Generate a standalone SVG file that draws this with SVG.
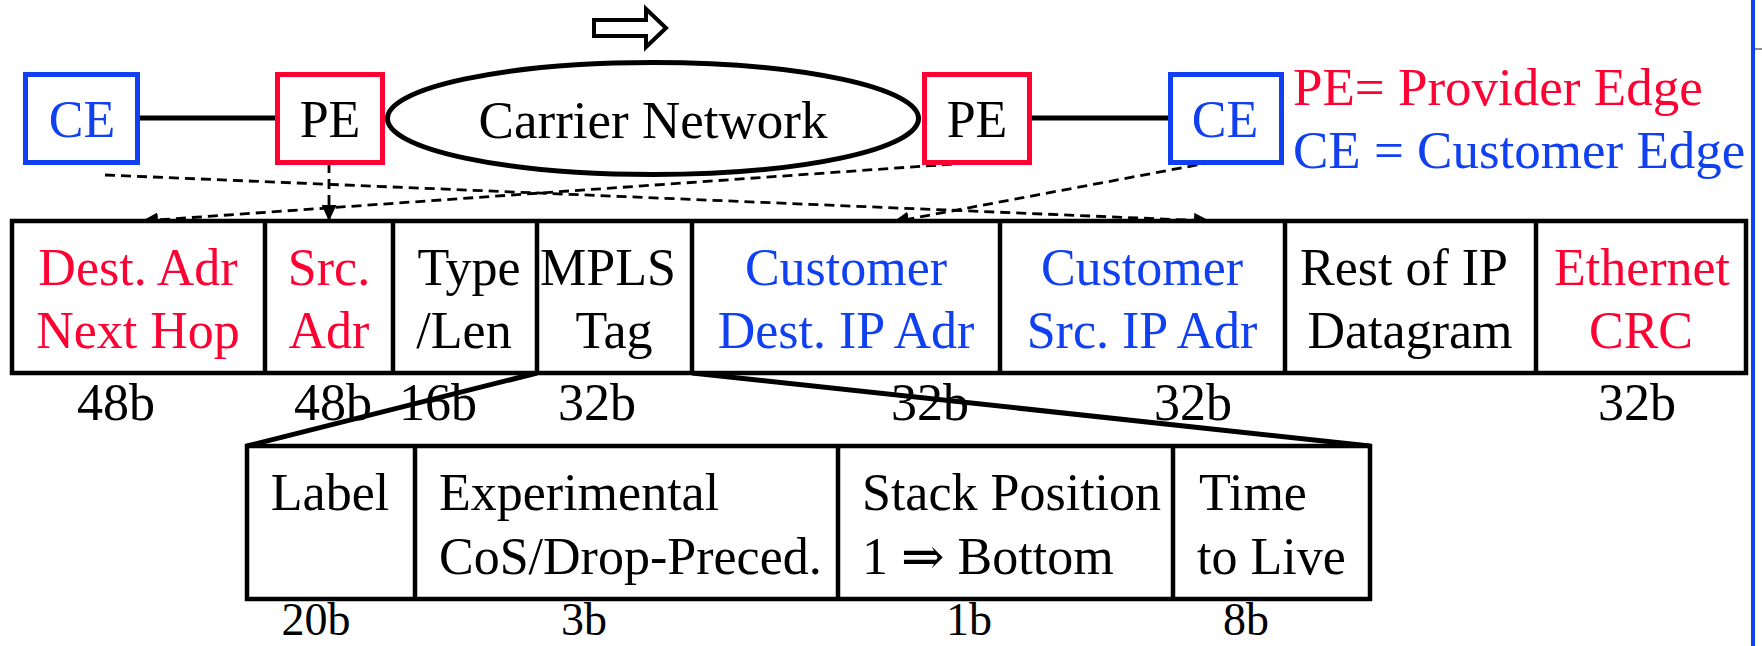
<svg xmlns="http://www.w3.org/2000/svg" width="1762" height="646" viewBox="0 0 1762 646">
<defs>
<style>
text { font-family: "Liberation Serif", "Times New Roman", "DejaVu Serif", serif; font-size: 52px; }
.r { fill: #FF0033; }
.b { fill: #1040F0; }
.k { fill: #000000; }
.c { text-anchor: middle; }
.bx { fill: #ffffff; stroke-width: 5; }
.rb { stroke: #FF0033; }
.bb { stroke: #1040F0; }
.tbl { fill: #ffffff; stroke: #000000; stroke-width: 4.5; }
.dv { stroke: #000000; stroke-width: 4.5; }
.solid { stroke: #000000; stroke-width: 5; fill: none; }
.dash { fill: none; stroke: #000000; stroke-width: 2.8; stroke-dasharray: 10 6; marker-end: url(#ah); }
.bits2 { font-size: 46px; }
</style>
<marker id="ah" markerUnits="userSpaceOnUse" markerWidth="17" markerHeight="15" refX="16" refY="7.5" orient="auto"><path d="M0,0 L16,7.5 L0,15 z" fill="#000000"/></marker>
</defs>
<rect width="1762" height="646" fill="#ffffff"/>

<!-- direction arrow -->
<polygon id="dir-arrow" points="594,20 646,20 646,9 666,28 646,47 646,36 594,36" fill="#ffffff" stroke="#000000" stroke-width="4" stroke-linejoin="miter"/>

<!-- right border line -->
<line x1="1753" y1="0" x2="1753" y2="646" stroke="#1040F0" stroke-width="4"/>
<line x1="1755" y1="49" x2="1762" y2="49" stroke="#666666" stroke-width="1.5"/>

<g id="connectors">
  <line class="solid" x1="140" y1="118" x2="276" y2="118"/>
  <line class="solid" x1="1032" y1="118" x2="1170" y2="118"/>
  <line class="dash" x1="105" y1="175" x2="1210" y2="221"/>
  <line class="dash" x1="968" y1="163" x2="142" y2="221"/>
  <line class="dash" x1="329" y1="163" x2="329" y2="221"/>
  <line class="dash" x1="1213" y1="162" x2="893" y2="222"/>
  <line class="solid" x1="537" y1="373" x2="247" y2="446"/>
  <line class="solid" x1="692" y1="373" x2="1370" y2="446"/>
</g>

<g id="carrier-network">
  <ellipse cx="653" cy="118.5" rx="265.5" ry="56" fill="#ffffff" stroke="#000000" stroke-width="5"/>
  <text class="k c" x="653" y="138" style="font-size:53px">Carrier Network</text>
</g>
<g id="ce-left">
  <rect class="bx bb" x="25.5" y="74.5" width="112" height="88"/>
  <text class="b c" x="82" y="137">CE</text>
</g>
<g id="pe-left">
  <rect class="bx rb" x="277.5" y="74.5" width="105" height="88"/>
  <text class="k c" x="330" y="137">PE</text>
</g>
<g id="pe-right">
  <rect class="bx rb" x="924.5" y="74.5" width="105" height="88"/>
  <text class="k c" x="977" y="137">PE</text>
</g>
<g id="ce-right">
  <rect class="bx bb" x="1170.5" y="74.5" width="111" height="88"/>
  <text class="b c" x="1225" y="137">CE</text>
</g>
<g id="legend">
  <text class="r" x="1293" y="105" style="font-size:53px">PE= Provider Edge</text>
  <text class="b" x="1293" y="168" style="font-size:53px">CE = Customer Edge</text>
</g>

<g id="frame">
  <rect class="tbl" x="12" y="221" width="1734" height="152"/>
  <line class="dv" x1="265" y1="221" x2="265" y2="373"/>
  <line class="dv" x1="393" y1="221" x2="393" y2="373"/>
  <line class="dv" x1="537" y1="221" x2="537" y2="373"/>
  <line class="dv" x1="692" y1="221" x2="692" y2="373"/>
  <line class="dv" x1="1000" y1="221" x2="1000" y2="373"/>
  <line class="dv" x1="1285" y1="221" x2="1285" y2="373"/>
  <line class="dv" x1="1536" y1="221" x2="1536" y2="373"/>
</g>
<g id="f-dest">
  <text class="r c" x="138" y="285">Dest. Adr</text>
  <text class="r c" x="138" y="348">Next Hop</text>
  <text class="k c" x="116" y="420">48b</text>
</g>
<g id="f-src">
  <text class="r c" x="329" y="285">Src.</text>
  <text class="r c" x="329" y="348">Adr</text>
  <text class="k c" x="333" y="420">48b</text>
</g>
<g id="f-type">
  <text class="k c" x="469" y="285">Type</text>
  <text class="k c" x="464" y="348">/Len</text>
  <text class="k c" x="438" y="420">16b</text>
</g>
<g id="f-mpls">
  <text class="k c" x="608" y="285">MPLS</text>
  <text class="k c" x="614" y="348">Tag</text>
  <text class="k c" x="597" y="420">32b</text>
</g>
<g id="f-cdst">
  <text class="b c" x="846" y="285">Customer</text>
  <text class="b c" x="846" y="348">Dest. IP Adr</text>
  <text class="k c" x="930" y="420">32b</text>
</g>
<g id="f-csrc">
  <text class="b c" x="1142" y="285">Customer</text>
  <text class="b c" x="1142" y="348">Src. IP Adr</text>
  <text class="k c" x="1193" y="420">32b</text>
</g>
<g id="f-rest">
  <text class="k c" x="1404" y="285">Rest of IP</text>
  <text class="k c" x="1410" y="348">Datagram</text>
</g>
<g id="f-crc">
  <text class="r c" x="1642" y="285">Ethernet</text>
  <text class="r c" x="1641" y="348">CRC</text>
  <text class="k c" x="1637" y="420">32b</text>
</g>

<g id="mpls-frame">
  <rect class="tbl" x="247" y="446" width="1123" height="153"/>
  <line class="dv" x1="415" y1="446" x2="415" y2="599"/>
  <line class="dv" x1="838" y1="446" x2="838" y2="599"/>
  <line class="dv" x1="1173" y1="446" x2="1173" y2="599"/>
</g>
<g id="m-label">
  <text class="k c" x="330" y="510">Label</text>
  <text class="k c bits2" x="316" y="635">20b</text>
</g>
<g id="m-exp">
  <text class="k" x="439" y="510">Experimental</text>
  <text class="k" x="439" y="574">CoS/Drop-Preced.</text>
  <text class="k c bits2" x="584" y="635">3b</text>
</g>
<g id="m-stack">
  <text class="k" x="862" y="510">Stack Position</text>
  <text class="k" x="862" y="574">1 ⇒ Bottom</text>
  <text class="k c bits2" x="969" y="635">1b</text>
</g>
<g id="m-ttl">
  <text class="k" x="1199" y="510">Time</text>
  <text class="k" x="1197" y="574">to Live</text>
  <text class="k c bits2" x="1246" y="635">8b</text>
</g>
</svg>
